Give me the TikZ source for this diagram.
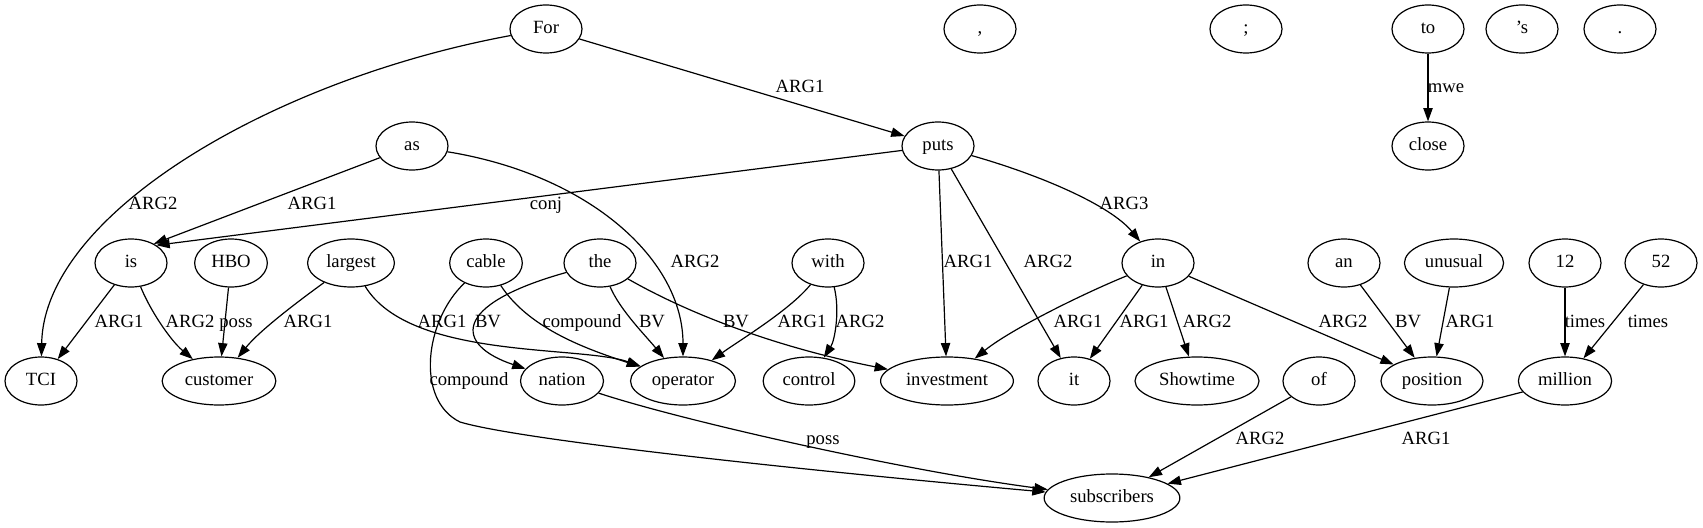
\documentclass[tikz,border=0pt]{standalone}
\usepackage{fontspec}
\setmainfont{Liberation Serif}
\usetikzlibrary{arrows.meta,shapes.geometric}

\begin{document}
\begin{tikzpicture}[x=0.75pt,y=-0.75pt,
    word/.style={draw,ellipse,line width=0.9pt,inner xsep=4.5pt,inner ysep=2pt,
        text height=9pt,text depth=2.5pt,
        minimum width=54pt,minimum height=36pt,font=\fontsize{14pt}{16pt}\selectfont},
    rel/.style={line width=0.9pt,-{Triangle[length=10pt,width=7pt]}},
    lab/.style={inner sep=0pt,text height=9pt,text depth=2.5pt,font=\fontsize{14pt}{16pt}\selectfont}]
    \useasboundingbox (0,0) rectangle (1703,528);
    \pgfmathsetmacro{\rowA}{29}
    \pgfmathsetmacro{\rowB}{146}
    \pgfmathsetmacro{\rowC}{263}
    \pgfmathsetmacro{\rowD}{381}
    \pgfmathsetmacro{\rowE}{498}

    % words
    \node[word] (For) at (546,\rowA) {For};
    \node[word] (comma) at (980,\rowA) {,};
    \node[word] (semi) at (1246,\rowA) {;};
    \node[word] (to) at (1428,\rowA) {to};
    \node[word] (apos) at (1522,\rowA) {’s};
    \node[word] (stop) at (1620,\rowA) {.};

    \node[word] (as) at (412,\rowB) {as};
    \node[word] (puts) at (938,\rowB) {puts};
    \node[word] (close) at (1428,\rowB) {close};

    \node[word] (is) at (131,\rowC) {is};
    \node[word] (HBO) at (231,\rowC) {HBO};
    \node[word] (largest) at (351,\rowC) {largest};
    \node[word] (cable) at (486,\rowC) {cable};
    \node[word] (the) at (600,\rowC) {the};
    \node[word] (with) at (828,\rowC) {with};
    \node[word] (in) at (1158,\rowC) {in};
    \node[word] (an) at (1344,\rowC) {an};
    \node[word] (unusual) at (1454,\rowC) {unusual};
    \node[word] (n12) at (1565,\rowC) {12};
    \node[word] (n52) at (1661,\rowC) {52};

    \node[word] (TCI) at (41,\rowD) {TCI};
    \node[word] (customer) at (219,\rowD) {customer};
    \node[word] (nation) at (562,\rowD) {nation};
    \node[word] (operator) at (683,\rowD) {operator};
    \node[word] (control) at (809,\rowD) {control};
    \node[word] (investment) at (947,\rowD) {investment};
    \node[word] (it) at (1074,\rowD) {it};
    \node[word] (Showtime) at (1197,\rowD) {Showtime};
    \node[word] (of) at (1319,\rowD) {of};
    \node[word] (position) at (1432,\rowD) {position};
    \node[word] (million) at (1565,\rowD) {million};

    \node[word] (subscribers) at (1112,\rowE) {subscribers};

    % relations
    \draw[rel] (For) .. controls (270,80) and (44,215) .. (TCI);
    \draw[rel] (For) -- (puts);
    \draw[rel] (as.200) -- (is.40);
    \draw[rel] (as) .. controls (590,175) and (683,260) .. (operator);
    \draw[rel] (puts.187) -- (is.35);
    \draw[rel] (puts) -- (investment);
    \draw[rel] (puts) -- (it);
    \draw[rel] (puts) .. controls (1040,175) and (1110,205) .. (in);
    \draw[rel] (to) -- (close);
    \draw[rel] (is) -- (TCI);
    \draw[rel] (is) .. controls (150,310) and (170,340) .. (customer);
    \draw[rel] (HBO) -- (customer);
    \draw[rel] (largest) .. controls (300,300) and (260,330) .. (customer);
    \draw[rel] (largest) .. controls (410,360) and (580,345) .. (operator);
    \draw[rel] (cable) .. controls (530,330) and (590,350) .. (operator);
    \draw[rel] (cable) .. controls (425,320) and (415,400) .. (460,422)
        .. controls (520,440) and (800,470) .. (subscribers);
    \draw[rel] (the) .. controls (450,305) and (455,345) .. (nation);
    \draw[rel] (the) .. controls (620,310) and (645,335) .. (operator);
    \draw[rel] (the) .. controls (700,320) and (790,350) .. (investment);
    \draw[rel] (with) .. controls (790,310) and (740,340) .. (operator);
    \draw[rel] (with) .. controls (840,310) and (835,340) .. (control);
    \draw[rel] (in) .. controls (1080,295) and (1010,330) .. (investment);
    \draw[rel] (in) -- (it);
    \draw[rel] (in) -- (Showtime);
    \draw[rel] (in) -- (position);
    \draw[rel] (an) -- (position);
    \draw[rel] (unusual) -- (position);
    \draw[rel] (n12) -- (million);
    \draw[rel] (n52) -- (million);
    \draw[rel] (of) -- (subscribers);
    \draw[rel] (million) -- (subscribers);
    \draw[rel] (nation) .. controls (680,420) and (900,470) .. (subscribers);

    % relation labels
    \node[lab] at (800,88) {ARG1};
    \node[lab] at (1446,88) {mwe};
    \node[lab] at (153,205) {ARG2};
    \node[lab] at (312,205) {ARG1};
    \node[lab] at (546,205) {conj};
    \node[lab] at (1124,205) {ARG3};
    \node[lab] at (695,263) {ARG2};
    \node[lab] at (968,263) {ARG1};
    \node[lab] at (1048,263) {ARG2};
    \node[lab] at (119,323) {ARG1};
    \node[lab] at (190,323) {ARG2};
    \node[lab] at (236,323) {poss};
    \node[lab] at (308,323) {ARG1};
    \node[lab] at (442,323) {ARG1};
    \node[lab] at (488,323) {BV};
    \node[lab] at (582,323) {compound};
    \node[lab] at (652,323) {BV};
    \node[lab] at (736,323) {BV};
    \node[lab] at (802,323) {ARG1};
    \node[lab] at (860,323) {ARG2};
    \node[lab] at (1078,323) {ARG1};
    \node[lab] at (1144,323) {ARG1};
    \node[lab] at (1207,323) {ARG2};
    \node[lab] at (1343,323) {ARG2};
    \node[lab] at (1408,323) {BV};
    \node[lab] at (1470,323) {ARG1};
    \node[lab] at (1585,323) {times};
    \node[lab] at (1648,323) {times};
    \node[lab] at (469,381) {compound};
    \node[lab] at (823,440) {poss};
    \node[lab] at (1260,440) {ARG2};
    \node[lab] at (1426,440) {ARG1};
\end{tikzpicture}
\end{document}
